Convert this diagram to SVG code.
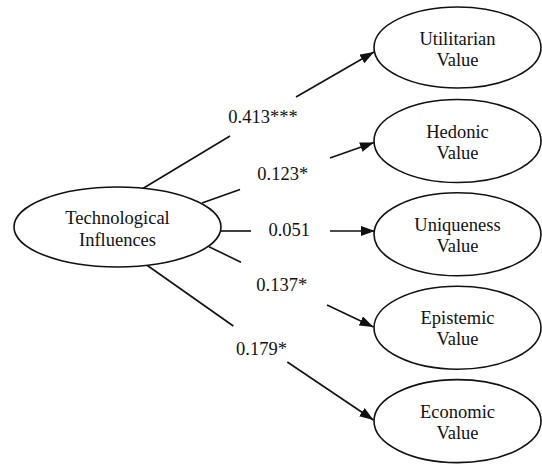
<svg xmlns="http://www.w3.org/2000/svg" width="542" height="464" viewBox="0 0 542 464">
<style>
.node ellipse{fill:#fff;stroke:#111;stroke-width:1.6}
text{font-family:"Liberation Serif","Times New Roman",serif;font-size:18.5px;fill:#111;text-anchor:middle}
.edges line{stroke:#111;stroke-width:1.6}
</style>
<defs>
<marker id="ah" markerUnits="userSpaceOnUse" markerWidth="15" markerHeight="11" refX="14" refY="5" orient="auto">
<path d="M0,0 L14,5 L0,10 z" fill="#111"/>
</marker>
</defs>
<rect width="542" height="464" fill="#fff"/>
<g class="edges">
<line x1="142" y1="189" x2="230" y2="136"/>
<line x1="296" y1="97" x2="374" y2="52" marker-end="url(#ah)"/>
<line x1="202" y1="203" x2="240" y2="189.5"/>
<line x1="330" y1="158" x2="374" y2="142.5" marker-end="url(#ah)"/>
<line x1="221" y1="231" x2="251" y2="231"/>
<line x1="330" y1="231" x2="375" y2="231" marker-end="url(#ah)"/>
<line x1="209" y1="246.7" x2="241" y2="262.3"/>
<line x1="327" y1="305" x2="373.5" y2="327" marker-end="url(#ah)"/>
<line x1="146.7" y1="265" x2="233.3" y2="326"/>
<line x1="287.3" y1="362" x2="373.5" y2="420" marker-end="url(#ah)"/>
<text x="263" y="123">0.413***</text>
<text x="282.7" y="179.6">0.123*</text>
<text x="289.2" y="236.3">0.051</text>
<text x="281.7" y="290.6">0.137*</text>
<text x="261.5" y="354.6">0.179*</text>
</g>
<g class="node" id="tech">
<ellipse cx="117.5" cy="227" rx="103.5" ry="40"/>
<text x="117.5" y="224">Technological</text>
<text x="117.5" y="246">Influences</text>
</g>
<g class="node" id="utilitarian">
<ellipse cx="457.5" cy="47.5" rx="83.5" ry="40.5"/>
<text x="457.5" y="45">Utilitarian</text>
<text x="457.5" y="66">Value</text>
</g>
<g class="node" id="hedonic">
<ellipse cx="457.5" cy="141" rx="83.5" ry="41.5"/>
<text x="457.5" y="137.5">Hedonic</text>
<text x="457.5" y="158.5">Value</text>
</g>
<g class="node" id="uniqueness">
<ellipse cx="457.5" cy="234.3" rx="83.5" ry="41.5"/>
<text x="457.5" y="230.8">Uniqueness</text>
<text x="457.5" y="251.8">Value</text>
</g>
<g class="node" id="epistemic">
<ellipse cx="457.5" cy="327.7" rx="83.5" ry="41.5"/>
<text x="457.5" y="324.2">Epistemic</text>
<text x="457.5" y="345.2">Value</text>
</g>
<g class="node" id="economic">
<ellipse cx="457.5" cy="421.1" rx="83.5" ry="41.5"/>
<text x="457.5" y="417.6">Economic</text>
<text x="457.5" y="438.6">Value</text>
</g>
</svg>
